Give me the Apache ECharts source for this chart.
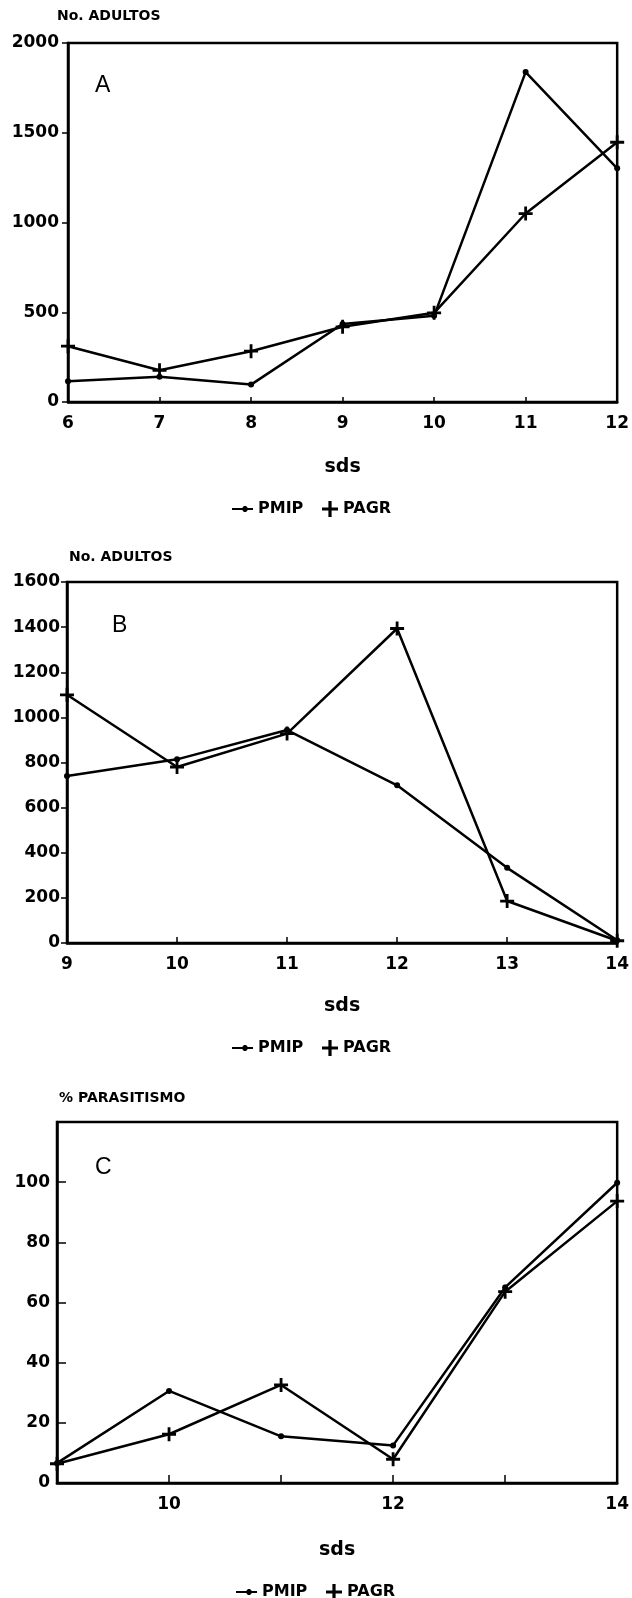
<!DOCTYPE html>
<html>
<head>
<meta charset="utf-8">
<script src="https://cdn.jsdelivr.net/npm/echarts@6/dist/echarts.min.js"></script>
<style>
  html, body { margin: 0; padding: 0; background: #fff; }
  #chart { width: 632px; height: 1598px; }
</style>
</head>
<body>
<div id="chart"></div>
<script>
// panel A - No. adultos
const sdsA = [6, 7, 8, 9, 10, 11, 12];
const pmipA = [115, 140, 97, 435, 480, 1838, 1302];
const pagrA = [311, 177, 283, 419, 497, 1050, 1447];
// panel B - No. adultos
const sdsB = [9, 10, 11, 12, 13, 14];
const pmipB = [740, 814, 944, 699, 333, 12];
const pagrB = [1100, 780, 928, 1394, 186, 10];
// panel C - % parasitismo
const sdsC = [9, 10, 11, 12, 13, 14];
const pmipC = [6.6, 30.6, 15.5, 12.5, 65, 99.8];
const pagrC = [6.4, 16.2, 32.6, 7.9, 63.6, 93.7];

const FONT = 'DejaVu Sans';
const plus = 'path://M4.8,0 L7.2,0 L7.2,4.8 L12,4.8 L12,7.2 L7.2,7.2 L7.2,12 L4.8,12 L4.8,7.2 L0,7.2 L0,4.8 L4.8,4.8 Z';
// short line with a dot, as in the printed key
const dash = 'path://M0,2 L21,2 L21,4 L0,4 Z M12,0 L14,0 L15.5,1.5 L15.5,4.5 L14,6 L12,6 L10.5,4.5 L10.5,1.5 Z';

const pairs = (xs, ys) => xs.map((x, i) => [x, ys[i]]);
const plain = v => String(v);

function xAxis(idx, min, max, tickLen, gap, labelFn) {
  return {
    type: 'value', gridIndex: idx, min: min, max: max, interval: 1,
    name: 'sds', nameLocation: 'middle', nameGap: gap,
    nameTextStyle: { color: '#000', fontFamily: FONT, fontWeight: 'bold', fontSize: 19 },
    axisLine: { lineStyle: { color: '#000', width: 2.5 } },
    axisTick: { show: tickLen > 0, inside: true, length: tickLen, lineStyle: { color: '#000', width: 1.5 } },
    axisLabel: { color: '#000', fontFamily: FONT, fontWeight: 'bold', fontSize: 17, margin: 13, formatter: labelFn || plain },
    splitLine: { show: false }
  };
}

function yAxis(idx, max, interval, inside, margin, labelFn) {
  return {
    type: 'value', gridIndex: idx, min: 0, max: max, interval: interval,
    axisLine: { show: true, lineStyle: { color: '#000', width: 2.5 } },
    axisTick: { show: true, inside: inside, length: inside ? 9 : 6, lineStyle: { color: '#000', width: 1.5 } },
    axisLabel: { color: '#000', fontFamily: FONT, fontWeight: 'bold', fontSize: 17, margin: margin, formatter: labelFn || plain },
    splitLine: { show: false }
  };
}

function lineSeries(name, idx, data, isPlus) {
  return {
    name: name, type: 'line', xAxisIndex: idx, yAxisIndex: idx,
    data: data, clip: false,
    symbol: isPlus ? plus : 'circle',
    symbolSize: isPlus ? 14 : 6,
    itemStyle: { color: '#000' },
    lineStyle: { color: '#000', width: 2.5 },
    emphasis: { disabled: true },
    z: isPlus ? 3 : 2
  };
}

function legends(top, left) {
  const text = { color: '#000', fontFamily: FONT, fontWeight: 'bold', fontSize: 16, lineHeight: 18 };
  return [
    {
      top: top, left: left, padding: 0, itemWidth: 21, itemHeight: 6,
      data: [{ name: 'PMIP', icon: dash }],
      textStyle: text
    },
    {
      top: top, left: left + 90, padding: 0, itemWidth: 16, itemHeight: 16,
      data: [{ name: 'PAGR', icon: plus }],
      lineStyle: { opacity: 0 },
      textStyle: text
    }
  ];
}

const titleText = { color: '#000', fontFamily: FONT, fontWeight: 'bold', fontSize: 14 };
const letterText = { color: '#000', fontFamily: 'Liberation Sans', fontWeight: 'normal', fontSize: 23 };

const option = {
  animation: false,
  backgroundColor: '#fff',
  title: [
    { text: 'No. ADULTOS', left: 57, top: 9, padding: 0, textStyle: titleText },
    { text: 'No. ADULTOS', left: 69, top: 550, padding: 0, textStyle: titleText },
    { text: '% PARASITISMO', left: 59, top: 1091, padding: 0, textStyle: titleText },
    { text: 'A', left: 95, top: 74, padding: 0, textStyle: letterText },
    { text: 'B', left: 112, top: 614, padding: 0, textStyle: letterText },
    { text: 'C', left: 95, top: 1156, padding: 0, textStyle: letterText }
  ],
  legend: [].concat(legends(500, 232), legends(1039, 232), legends(1583, 236)),
  grid: [
    { left: 68, right: 14, top: 43, height: 359, show: true, borderColor: '#000', borderWidth: 2.5 },
    { left: 67, right: 12, top: 582, height: 361, show: true, borderColor: '#000', borderWidth: 2.5 },
    { left: 57, right: 12, top: 1122, height: 361, show: true, borderColor: '#000', borderWidth: 2.5 }
  ],
  xAxis: [
    xAxis(0, 6, 12, 5, 56),
    xAxis(1, 9, 14, 6, 54),
    xAxis(2, 9, 14, 8, 58, v => (v % 2 === 0 ? String(v) : ''))
  ],
  yAxis: [
    yAxis(0, 2000, 500, false, 9),
    yAxis(1, 1600, 200, false, 7),
    yAxis(2, 120, 20, true, 7, v => (v === 120 ? '' : String(v)))
  ],
  series: [
    lineSeries('PMIP', 0, pairs(sdsA, pmipA), false),
    lineSeries('PAGR', 0, pairs(sdsA, pagrA), true),
    lineSeries('PMIP', 1, pairs(sdsB, pmipB), false),
    lineSeries('PAGR', 1, pairs(sdsB, pagrB), true),
    lineSeries('PMIP', 2, pairs(sdsC, pmipC), false),
    lineSeries('PAGR', 2, pairs(sdsC, pagrC), true)
  ]
};

const chart = echarts.init(document.getElementById('chart'), null, { renderer: 'canvas' });
chart.setOption(option);
window.addEventListener('resize', () => {
  chart.resize();
});
</script>
</body>
</html>
